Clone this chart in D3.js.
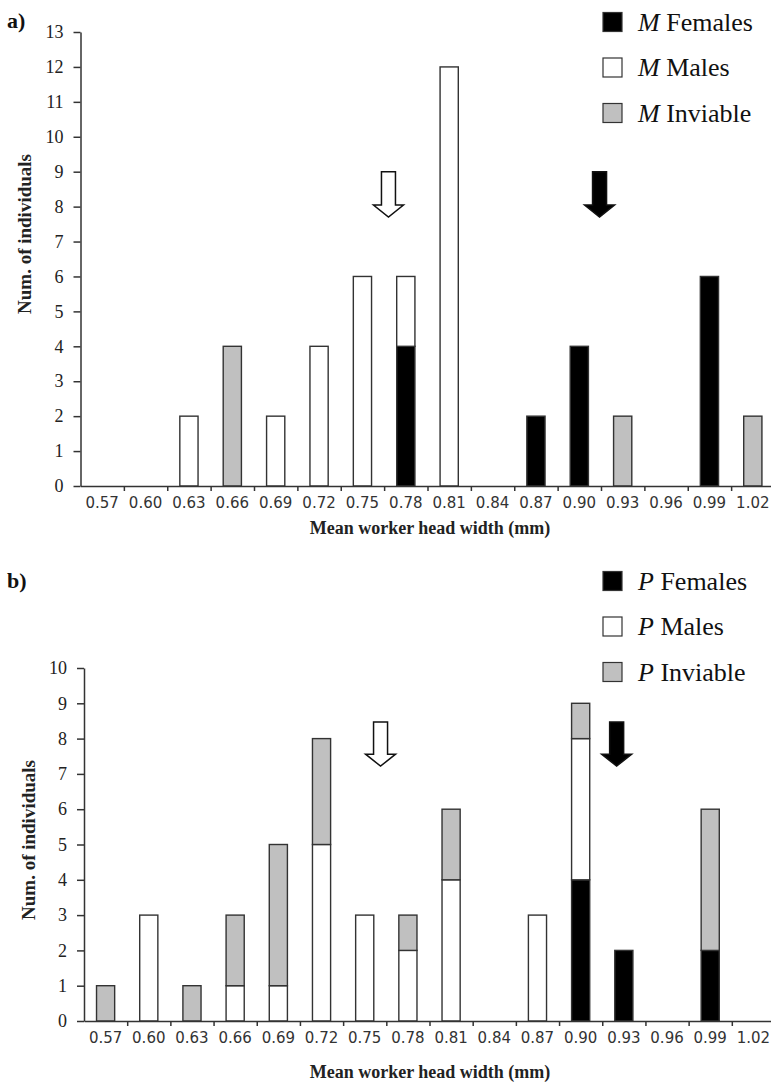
<!DOCTYPE html>
<html>
<head>
<meta charset="utf-8">
<script src="https://cdn.jsdelivr.net/npm/d3@7"></script>
<style>
  body { margin: 0; background: #fff; }
  svg { display: block; }
</style>
</head>
<body>
<svg id="chart" width="771" height="1084"></svg>
<script>
// Head width classes (mm)
const widths = ['0.57', '0.60', '0.63', '0.66', '0.69', '0.72', '0.75', '0.78',
  '0.81', '0.84', '0.87', '0.90', '0.93', '0.96', '0.99', '1.02'];

// Panel a) M queens
const aFemales  = [0, 0, 0, 0, 0, 0, 0, 4, 0, 0, 2, 4, 0, 0, 6, 0];
const aMales    = [0, 0, 2, 0, 2, 4, 6, 2, 12, 0, 0, 0, 0, 0, 0, 0];
const aInviable = [0, 0, 0, 4, 0, 0, 0, 0, 0, 0, 0, 0, 2, 0, 0, 2];
const aYTicks = d3.range(0, 14);
// mean head width arrows: x value, top and tip (counts)
const aArrows = [
  { x: 0.768, top: 9, tip: 7.7, fill: '#fff' },
  { x: 0.914, top: 9, tip: 7.7, fill: '#000' },
];

// Panel b) P queens
const bFemales  = [0, 0, 0, 0, 0, 0, 0, 0, 0, 0, 0, 4, 2, 0, 2, 0];
const bMales    = [0, 3, 0, 1, 1, 5, 3, 2, 4, 0, 3, 4, 0, 0, 0, 0];
const bInviable = [1, 0, 1, 2, 4, 3, 0, 1, 2, 0, 0, 1, 0, 0, 4, 0];
const bYTicks = d3.range(0, 11);
const bArrows = [
  { x: 0.761, top: 8.47, tip: 7.22, fill: '#fff' },
  { x: 0.925, top: 8.47, tip: 7.22, fill: '#000' },
];

const keys = ['females', 'males', 'inviable'];
const colors = { females: '#000', males: '#fff', inviable: '#c0c0c0' };
const legendNames = { females: 'Females', males: 'Males', inviable: 'Inviable' };

const serif = '"Liberation Serif", "Times New Roman", Times, serif';

const svg = d3.select('#chart');
svg.append('rect').attr('width', 771).attr('height', 1084).attr('fill', '#fff');

function drawPanel(opts) {
  const {
    females, males, inviable, yTicks, arrows, letter, panelLabel,
    x0, x1, yTop, yBottom, legendY, labelY, titleY,
  } = opts;

  const rows = widths.map((w, i) => ({
    w, females: females[i], males: males[i], inviable: inviable[i],
  }));
  const series = d3.stack().keys(keys)(rows);

  const xBand = d3.scaleBand().domain(widths).range([x0, x1]);
  const step = xBand.step();
  // continuous scale over the same classes (band edges)
  const xLin = d3.scaleLinear().domain([0.555, 0.555 + 0.03 * widths.length]).range([x0, x1]);
  const y = d3.scaleLinear().domain([0, d3.max(yTicks)]).range([yBottom, yTop]);

  const g = svg.append('g');

  // Bars
  const barW = step * 0.42;
  g.append('g')
    .selectAll('g')
    .data(series)
    .join('g')
    .attr('fill', (d) => colors[d.key])
    .selectAll('rect')
    .data((d) => d.filter((s) => s[1] - s[0] > 0))
    .join('rect')
    .attr('x', (d) => xBand(d.data.w) + (step - barW) / 2)
    .attr('y', (d) => y(d[1]))
    .attr('width', barW)
    .attr('height', (d) => y(d[0]) - y(d[1]))
    .attr('stroke', '#333')
    .attr('stroke-width', 1.4);

  // X axis line + boundary ticks
  const xAxis = g.append('g')
    .attr('transform', `translate(0,${yBottom})`)
    .call(d3.axisBottom(xLin)
      .tickValues(d3.range(1, widths.length + 1).map((i) => 0.555 + 0.03 * i))
      .tickSize(5)
      .tickSizeOuter(0)
      .tickFormat(''));
  xAxis.select('.domain').attr('stroke', '#333').attr('stroke-width', 1.5);
  xAxis.selectAll('.tick line').attr('stroke', '#333').attr('stroke-width', 1.5);

  // X labels centred on classes
  const xLab = g.append('g')
    .attr('transform', `translate(0,${yBottom})`)
    .call(d3.axisBottom(xBand).tickSize(0).tickPadding(11));
  xLab.select('.domain').remove();
  xLab.selectAll('text')
    .attr('font-family', '"DejaVu Sans", sans-serif')
    .attr('font-size', 15)
    .attr('fill', '#333');

  // Y axis
  const yAxis = g.append('g')
    .attr('transform', `translate(${x0},0)`)
    .call(d3.axisLeft(y).tickValues(yTicks).tickSize(7).tickSizeOuter(0).tickPadding(10));
  yAxis.select('.domain').attr('stroke', '#333').attr('stroke-width', 1.5);
  yAxis.selectAll('.tick line').attr('stroke', '#333').attr('stroke-width', 1.5);
  yAxis.selectAll('text')
    .attr('font-family', serif)
    .attr('font-size', 18)
    .attr('fill', '#222');

  // Axis titles
  g.append('text')
    .attr('transform', `translate(${x0 - 56},${titleY}) rotate(-90)`)
    .attr('text-anchor', 'middle')
    .attr('dy', '0.35em')
    .attr('font-family', serif)
    .attr('font-weight', 'bold')
    .attr('font-size', 19)
    .attr('fill', '#222')
    .text('Num. of individuals');

  g.append('text')
    .attr('x', 430)
    .attr('y', labelY)
    .attr('text-anchor', 'middle')
    .attr('dy', '0.35em')
    .attr('font-family', serif)
    .attr('font-weight', 'bold')
    .attr('font-size', 18)
    .attr('fill', '#222')
    .text('Mean worker head width (mm)');

  // Panel label
  g.append('text')
    .attr('x', 7)
    .attr('y', panelLabel.y)
    .attr('font-family', serif)
    .attr('font-weight', 'bold')
    .attr('font-size', 22)
    .attr('fill', '#111')
    .text(panelLabel.text);

  // Arrows marking mean head width
  const shaft = 14;
  const head = 30;
  const headLen = 12;
  g.append('g')
    .selectAll('path')
    .data(arrows)
    .join('path')
    .attr('d', (d) => {
      const cx = xLin(d.x);
      const t = y(d.top);
      const p = y(d.tip);
      const h = p - headLen;
      return `M${cx - shaft / 2},${t}H${cx + shaft / 2}V${h}H${cx + head / 2}`
        + `L${cx},${p}L${cx - head / 2},${h}H${cx - shaft / 2}Z`;
    })
    .attr('fill', (d) => d.fill)
    .attr('stroke', '#111')
    .attr('stroke-width', 1.5);

  // Legend
  const legend = g.append('g').attr('transform', `translate(603,${legendY})`);
  const item = legend.selectAll('g')
    .data(keys)
    .join('g')
    .attr('transform', (d, i) => `translate(0,${i * 45.5})`);
  item.append('rect')
    .attr('y', -9.5)
    .attr('width', 19)
    .attr('height', 19)
    .attr('fill', (d) => colors[d])
    .attr('stroke', '#333')
    .attr('stroke-width', 1.2);
  const lt = item.append('text')
    .attr('x', 35)
    .attr('dy', '0.33em')
    .attr('font-family', serif)
    .attr('font-size', 26)
    .attr('fill', '#111');
  lt.append('tspan').attr('font-style', 'italic').text(letter);
  lt.append('tspan').text((d) => ' ' + legendNames[d]);
}

drawPanel({
  females: aFemales, males: aMales, inviable: aInviable,
  yTicks: aYTicks, arrows: aArrows, letter: 'M',
  panelLabel: { text: 'a)', y: 28 },
  x0: 80.5, x1: 774.5, yTop: 32, yBottom: 486,
  legendY: 22, labelY: 528, titleY: 234,
});

drawPanel({
  females: bFemales, males: bMales, inviable: bInviable,
  yTicks: bYTicks, arrows: bArrows, letter: 'P',
  panelLabel: { text: 'b)', y: 588 },
  x0: 84, x1: 775, yTop: 668, yBottom: 1021,
  legendY: 581, labelY: 1072, titleY: 840,
});
</script>
</body>
</html>
